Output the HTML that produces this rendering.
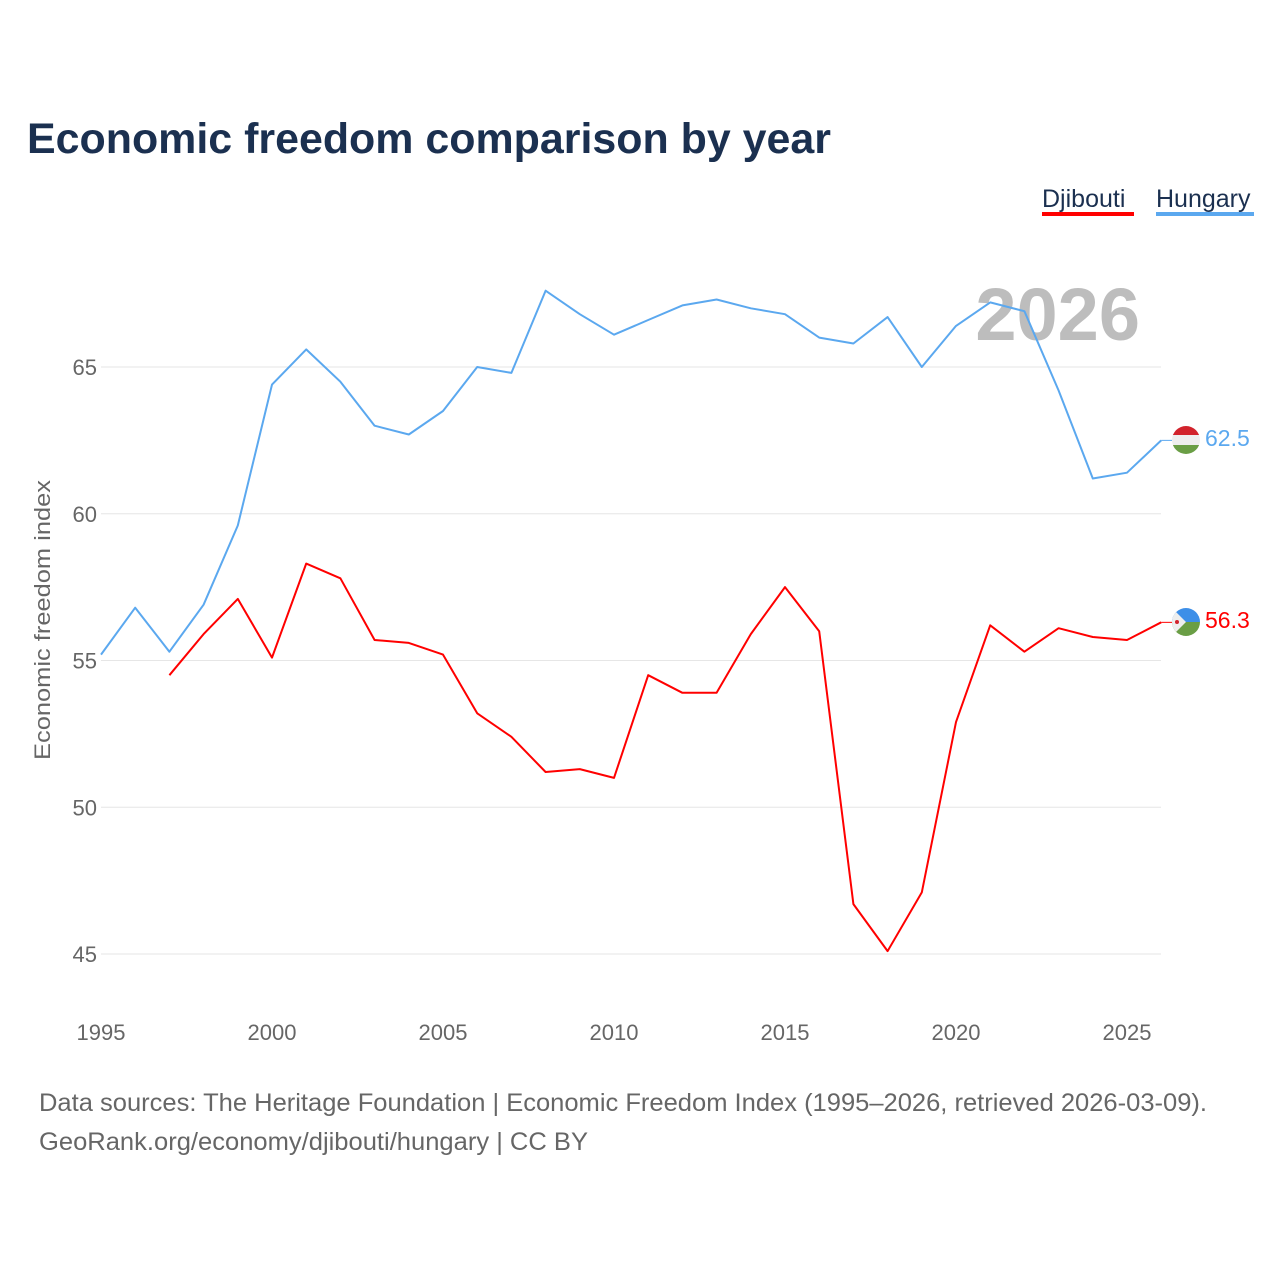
<!DOCTYPE html>
<html><head><meta charset="utf-8"><style>
body{margin:0;background:#fff;font-family:"Liberation Sans",sans-serif;}
svg text{font-family:"Liberation Sans",sans-serif;}
</style></head><body>
<svg id="chart" width="1280" height="1280" xmlns="http://www.w3.org/2000/svg">
<text x="27" y="153" font-size="43" font-weight="bold" fill="#1b3050" textLength="804" lengthAdjust="spacingAndGlyphs">Economic freedom comparison by year</text>
<g>
<text x="1042" y="207" font-size="25" fill="#1b3050">Djibouti</text>
<rect x="1042" y="212" width="92" height="4" fill="#ff0000"/>
<text x="1156" y="207" font-size="25" fill="#1b3050">Hungary</text>
<rect x="1156" y="212" width="98" height="4" fill="#5ba8ef"/>
</g>
<text x="1140" y="340" font-size="74" font-weight="bold" fill="#bdbdbd" text-anchor="end">2026</text>
<g id="grid"></g><g id="xt"></g><g id="lines"></g>
<text transform="translate(50,620) rotate(-90)" font-size="22" fill="#666" text-anchor="middle" textLength="280" lengthAdjust="spacingAndGlyphs">Economic freedom index</text>
<g>
<clipPath id="c1"><circle cx="1186" cy="440" r="14"/></clipPath>
<g clip-path="url(#c1)"><rect x="1170" y="425" width="32" height="10" fill="#d2232c"/><rect x="1170" y="435" width="32" height="10" fill="#eee"/><rect x="1170" y="445" width="32" height="10" fill="#6a9e45"/></g></g>
<g>
<clipPath id="c2"><circle cx="1186" cy="622" r="14"/></clipPath>
<g clip-path="url(#c2)"><rect x="1170" y="606" width="32" height="16" fill="#3d8fe8"/><rect x="1170" y="622" width="32" height="16" fill="#6a9e45"/><polygon points="1170,606 1186,622 1170,638" fill="#eee"/><circle cx="1177" cy="622" r="2" fill="#d2232c"/></g></g>
<text x="1205" y="446" font-size="23" fill="#5ba8ef">62.5</text>
<text x="1205" y="628" font-size="23" fill="#ff0000">56.3</text>
<text x="39" y="1111" font-size="25" fill="#666" textLength="1168" lengthAdjust="spacingAndGlyphs">Data sources: The Heritage Foundation | Economic Freedom Index (1995–2026, retrieved 2026-03-09).</text>
<text x="39" y="1150" font-size="25" fill="#666" textLength="549" lengthAdjust="spacingAndGlyphs">GeoRank.org/economy/djibouti/hungary | CC BY</text>
</svg>
<script>
const years=[1995,1996,1997,1998,1999,2000,2001,2002,2003,2004,2005,2006,2007,2008,2009,2010,2011,2012,2013,2014,2015,2016,2017,2018,2019,2020,2021,2022,2023,2024,2025,2026];
const hungary=[55.2,56.8,55.3,56.9,59.6,64.4,65.6,64.5,63.0,62.7,63.5,65.0,64.8,67.6,66.8,66.1,66.6,67.1,67.3,67.0,66.8,66.0,65.8,66.7,65.0,66.4,67.2,66.9,64.2,61.2,61.4,62.5];
const djibouti=[null,null,54.5,55.9,57.1,55.1,58.3,57.8,55.7,55.6,55.2,53.2,52.4,51.2,51.3,51.0,54.5,53.9,53.9,55.9,57.5,56.0,46.7,45.1,47.1,52.9,56.2,55.3,56.1,55.8,55.7,56.3];
const yTicks=[45,50,55,60,65];
const xTicks=[1995,2000,2005,2010,2015,2020,2025];
const NS="http://www.w3.org/2000/svg";
const x=v=>101+(v-1995)*34.2;
const y=v=>367-(v-65)*29.35;
function mk(t,a,p){const e=document.createElementNS(NS,t);for(const k in a)e.setAttribute(k,a[k]);p.appendChild(e);return e;}
const grid=document.getElementById('grid');
yTicks.forEach(t=>{
 const l=mk('line',{x1:101,x2:1161,y1:y(t),y2:y(t),stroke:'#e6e6e6','stroke-width':1},grid);
 
 
 const tx=mk('text',{x:97,y:y(t)+8,'font-size':22,fill:'#666','text-anchor':'end'},grid);
 tx.textContent=t;
 
 
});
const xt=document.getElementById('xt');
xTicks.forEach(t=>{
 const tx=mk('text',{x:x(t),y:1040,'font-size':22,fill:'#666','text-anchor':'middle'},xt);
 tx.textContent=t;
 
 
});
const lines=document.getElementById('lines');
function draw(vals,col,name){
 let d='';vals.forEach((v,i)=>{if(v==null)return;d+=(d?'L':'M')+x(years[i]).toFixed(1)+','+y(v).toFixed(1);});
 const p=mk('path',{d:d,fill:'none',stroke:col,'stroke-width':2,'stroke-linejoin':'round'},lines);
 
 
 const lv=vals[vals.length-1];
 const c=mk('line',{x1:x(2026),x2:1172,y1:y(lv),y2:y(lv),stroke:col,'stroke-width':1},lines);
 
 
}
draw(hungary,'#5ba8ef','hungary-line');
draw(djibouti,'#ff0000','djibouti-line');
</script>
</body></html>
